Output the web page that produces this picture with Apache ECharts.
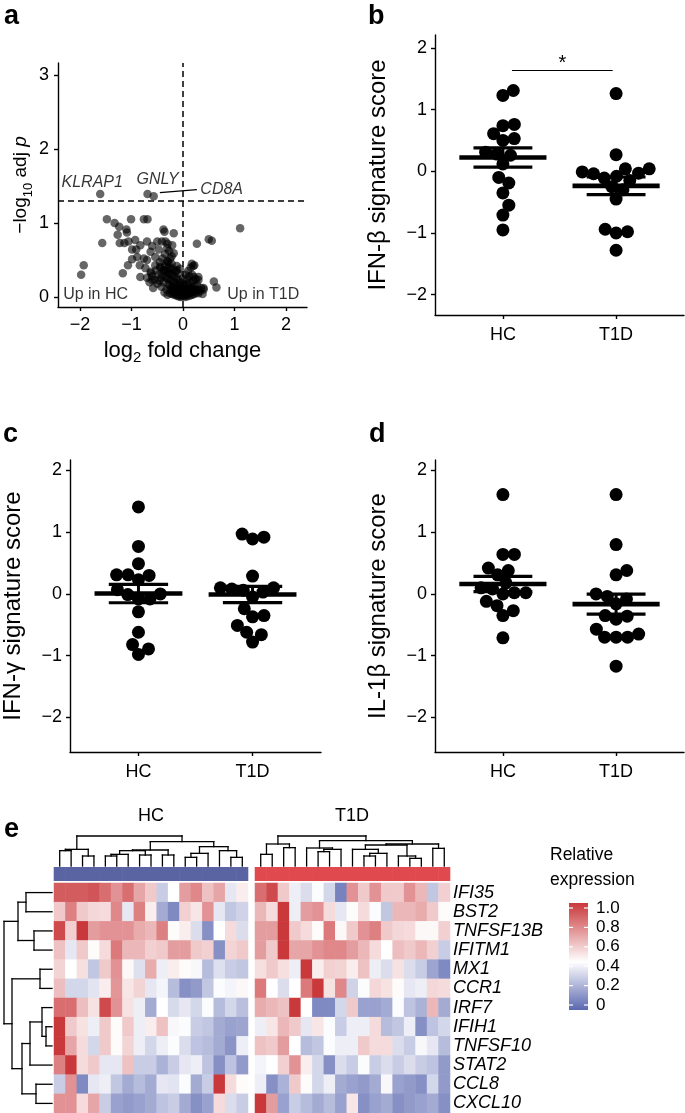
<!DOCTYPE html>
<html><head><meta charset="utf-8">
<script src="https://cdn.jsdelivr.net/npm/echarts@6/dist/echarts.min.js"></script>
<style>html,body{margin:0;padding:0;background:#fff}#c{width:685px;height:1113px}</style>
</head><body><div id="c"></div>
<script>
// ================= DATA =================
// Panel a: volcano plot [log2 fold change, -log10 adj p]
const volcanoPoints = [
 [-1.61,1.39],[-0.69,1.39],[-0.57,1.36],
 [-1.48,1.05],[-1.33,1.00],[-1.24,0.95],[-1.10,0.91],[-1.09,0.87],[-1.01,1.05],[-0.76,1.05],[-0.69,1.05],
 [-1.57,0.73],[-1.27,0.84],[-1.23,0.73],[-1.14,0.73],[-1.06,0.75],[-0.93,0.77],[-0.99,0.64],[-0.91,0.64],
 [-0.83,0.70],[-0.70,0.75],[-0.60,0.69],[-0.50,0.75],[-0.41,0.75],[-0.34,0.75],[-0.38,0.91],[-0.36,0.88],
 [-0.18,0.86],[-0.63,0.61],[-0.89,0.54],[-0.99,0.51],[-0.76,0.52],[-0.70,0.50],[-0.54,0.54],[-0.47,0.64],
 [-0.31,0.66],[-0.21,0.70],[-0.18,0.59],[-0.54,0.43],[-0.84,0.43],[-1.07,0.43],[-0.73,0.39],[-1.93,0.43],
 [-1.98,0.30],[-1.17,0.32],[-0.83,0.27],[-0.63,0.34],[-0.60,0.23],[-0.44,0.41],[-0.38,0.36],[-0.31,0.48],
 [-0.25,0.52],[-0.25,0.36],[-0.12,0.36],[-0.30,0.72],[-0.27,0.62],[-0.22,0.55],[-0.35,0.58],[-0.40,0.52],
 [-0.28,0.45],[-0.45,0.47],
 [0.27,0.72],[0.50,0.78],[0.56,0.76],[1.11,0.93],[0.17,0.45],[0.22,0.43],[0.21,0.27],[0.30,0.23],
 [0.40,0.12],[0.60,0.21],[0.65,0.13],
 [-0.02,0.01],[0.03,0.02],[-0.06,0.03],[0.07,0.03],[-0.10,0.04],[0.11,0.05],[-0.14,0.05],[0.15,0.06],
 [-0.18,0.07],[0.19,0.07],[-0.22,0.08],[0.24,0.09],[0.00,0.05],[-0.04,0.07],[0.05,0.08],[-0.08,0.09],
 [0.09,0.10],[-0.12,0.11],[0.13,0.12],[-0.16,0.12],[0.18,0.13],[-0.20,0.14],[0.22,0.15],[-0.25,0.15],
 [-0.28,0.17],[0.27,0.17],[-0.03,0.12],[0.02,0.14],[-0.07,0.15],[0.06,0.16],[-0.11,0.17],[0.10,0.18],
 [-0.15,0.19],[0.14,0.20],[-0.19,0.20],[-0.23,0.22],[0.20,0.22],[-0.27,0.24],[0.25,0.24],[-0.31,0.25],
 [-0.34,0.27],[0.30,0.27],[-0.05,0.20],[-0.09,0.23],[0.08,0.24],[-0.13,0.26],[0.12,0.28],[-0.17,0.28],
 [-0.21,0.30],[0.18,0.30],[-0.25,0.31],[-0.29,0.33],[-0.33,0.35],[-0.37,0.36],[-0.40,0.30],[-0.43,0.26],
 [-0.46,0.22],[-0.38,0.20],[-0.42,0.14],[-0.32,0.10],[-0.36,0.06],[-0.30,0.03],[0.30,0.05],[0.33,0.08],
 [0.35,0.12],[0.28,0.10],[-0.50,0.18],[-0.55,0.23],[-0.48,0.30],[-0.52,0.36],[-0.44,0.40],[-0.35,0.42],
 [-0.27,0.40],[-0.20,0.38],[-0.15,0.35],[-0.10,0.32],[0.05,0.30],[0.10,0.35],[0.15,0.40],[0.20,0.42],
 [-0.22,0.45],[-0.30,0.48],[-0.12,0.42],[-0.06,0.38],[0.00,0.25],[0.00,0.18],[-0.01,0.10],[0.04,0.00],
 [-0.05,0.00],[0.09,0.01],[-0.09,0.01],[0.14,0.02],[-0.13,0.02],[-0.17,0.03],[0.18,0.03],[0.22,0.04],
 [-0.21,0.04],[-0.25,0.05],[0.26,0.06],[-0.24,0.11],[0.20,0.10],[0.16,0.09],[-0.60,0.28],[-0.58,0.12],
 [-0.65,0.20],[-0.62,0.32],[-0.70,0.26],[0.40,0.10],[0.38,0.04]
];
const volcanoGenes = ['KLRAP1','GNLY','CD8A'];
const volcanoGeneFC = [-1.61,-0.69,-0.57];
const volcanoGeneP = [1.39,1.39,1.36];
const pThreshold = 1.3;
const volcanoXTicks = [-2,-1,0,1,2];
const volcanoYTicks = [0,1,2,3];

// Panels b-d: signature scores
const groups = ['HC','T1D'];
const ifnbHC  = [1.31,1.23,0.76,0.74,0.61,0.53,0.50,0.31,0.28,0.26,0.12,-0.10,-0.19,-0.35,-0.55,-0.71,-0.95];
const ifnbT1D = [1.26,0.27,0.04,0.04,-0.01,-0.03,-0.04,-0.08,-0.11,-0.15,-0.25,-0.30,-0.45,-0.94,-0.98,-1.00,-1.28];
const ifngHC  = [1.41,0.77,0.49,0.31,0.31,0.30,0.23,0.07,0.00,-0.01,-0.08,-0.08,-0.29,-0.62,-0.82,-0.89,-0.98];
const ifngT1D = [0.97,0.92,0.89,0.29,0.10,0.10,0.08,0.06,0.03,-0.05,-0.24,-0.35,-0.37,-0.51,-0.62,-0.66,-0.78];
const il1bHC  = [1.61,0.64,0.64,0.42,0.38,0.31,0.18,0.10,0.08,0.02,0.02,0.00,-0.12,-0.19,-0.27,-0.35,-0.71];
const il1bT1D = [1.61,0.80,0.38,0.31,0.00,-0.04,-0.08,-0.16,-0.35,-0.36,-0.41,-0.57,-0.65,-0.70,-0.70,-0.70,-1.17];
const scoreTicks = [-2,-1,0,1,2];

// Panel e: heatmap
const genes = ['IFI35','BST2','TNFSF13B','IFITM1','MX1','CCR1','IRF7','IFIH1','TNFSF10','STAT2','CCL8','CXCL10'];
const heatHC = [
 [0.90,0.90,0.90,0.92,0.85,0.75,0.85,0.70,0.60,0.30,0.45,0.72,0.78,0.62,0.70,0.38,0.50],
 [0.60,0.80,0.60,0.56,0.55,0.78,0.38,0.80,0.50,0.20,0.10,0.58,0.52,0.75,0.38,0.28,0.32],
 [0.95,0.58,1.00,0.72,0.75,0.75,0.75,0.68,0.65,0.80,0.46,0.50,0.35,0.12,0.45,0.55,0.35],
 [0.62,0.38,0.60,0.46,0.55,0.82,0.65,0.65,0.58,0.60,0.72,0.72,0.60,0.58,0.12,0.57,0.60],
 [0.57,0.45,0.54,0.28,0.60,0.75,0.47,0.36,0.68,0.40,0.50,0.46,0.43,0.25,0.36,0.30,0.28],
 [0.63,0.33,0.33,0.37,0.50,0.74,0.52,0.57,0.38,0.42,0.25,0.12,0.15,0.28,0.44,0.42,0.47],
 [0.85,0.85,0.63,0.53,0.95,0.75,0.53,0.40,0.20,0.45,0.34,0.38,0.33,0.44,0.25,0.33,0.26],
 [1.00,0.60,0.53,0.40,0.60,0.46,0.60,0.40,0.50,0.62,0.43,0.44,0.30,0.28,0.20,0.17,0.18],
 [1.00,0.70,0.55,0.33,0.60,0.46,0.57,0.40,0.33,0.40,0.44,0.35,0.27,0.25,0.20,0.13,0.40],
 [0.80,1.00,0.55,0.60,0.38,0.38,0.62,0.30,0.30,0.22,0.30,0.38,0.40,0.27,0.12,0.27,0.15],
 [0.30,0.75,0.10,0.38,0.40,0.28,0.20,0.25,0.20,0.38,0.37,0.44,0.20,0.30,1.00,0.55,0.46],
 [0.75,0.75,0.55,0.70,0.30,0.17,0.15,0.17,0.20,0.27,0.30,0.20,0.12,0.17,0.55,0.35,0.30]
];
const heatT1D = [
 [0.85,0.95,0.60,0.40,0.35,0.44,0.33,0.08,0.75,0.60,0.75,0.60,0.60,0.75,0.65,0.28,0.58],
 [0.65,0.55,1.00,0.40,0.72,0.75,0.55,0.38,0.46,0.55,0.44,0.28,0.65,0.65,0.68,0.60,0.46],
 [0.72,0.72,1.00,0.60,0.55,0.46,0.82,0.47,0.60,0.75,0.80,0.60,0.56,0.55,0.47,0.47,0.58],
 [0.72,0.60,1.00,0.70,0.70,0.75,0.78,0.78,0.72,0.65,0.55,0.45,0.63,0.60,0.65,0.58,0.30],
 [0.54,0.60,0.54,0.40,1.00,0.50,0.58,0.57,0.50,0.62,0.40,0.35,0.53,0.35,0.30,0.18,0.10],
 [0.82,0.45,0.35,0.45,0.82,1.00,0.53,0.78,0.32,0.44,0.56,0.53,0.46,0.38,0.40,0.56,0.55],
 [0.68,0.65,0.62,1.00,0.45,0.10,0.10,0.33,0.60,0.17,0.17,0.20,0.44,0.27,0.22,0.65,0.20],
 [0.40,0.52,0.65,0.60,0.38,0.52,0.44,0.30,0.40,0.40,0.55,0.25,0.28,0.40,0.12,0.27,0.33],
 [0.62,0.60,0.72,0.45,0.25,0.28,0.44,0.40,0.40,0.60,0.55,0.55,0.35,0.30,0.43,0.38,0.25],
 [0.42,0.45,0.58,0.75,0.50,0.33,0.12,0.35,0.30,0.44,0.30,0.35,0.30,0.35,0.30,0.27,0.15],
 [0.40,0.12,0.22,0.60,0.46,0.33,0.40,0.20,0.17,0.15,0.20,0.43,0.17,0.15,0.12,0.33,0.15],
 [1.00,0.72,0.17,0.30,0.25,0.20,0.25,0.17,0.52,0.12,0.17,0.20,0.12,0.15,0.17,0.20,0.12]
];
// dendrograms: hclust-style merges [childA, childB, height]; negative = leaf index (1-based)
const dendroHC = [[-1,-2,46],[-3,-4,30],[1,2,50],[-5,-6,30],[4,-7,35],[-8,-9,33],[5,6,46],[-10,-11,33],
 [7,8,48],[-12,-13,26],[10,-14,38],[-16,-17,26],[-15,12,46],[11,13,58],[9,14,73],[3,15,90]];
const dendroT1D = [[-1,-2,35],[-3,-4,55],[1,2,66],[-6,-7,43],[4,-8,50],[-5,5,54],[-10,-11,30],[7,-12,38],
 [-9,8,50],[-14,-15,23],[-13,10,30],[9,11,63],[-16,-17,53],[12,13,66],[6,14,76],[3,15,90]];
const dendroRows = [[-1,-2,26],[-3,-4,18],[1,2,34],[-5,-6,12],[-8,-9,6],[-7,5,10],[6,-10,22],[-11,-12,16],
 [7,8,30],[4,9,40],[3,10,48]];
const legendTicks = [0,0.2,0.4,0.6,0.8,1.0];
const legendTickLabels = ['0','0.2','0.4','0.6','0.8','1.0'];

// ================= HELPERS =================
const FONT = 'Liberation Sans, Arial, sans-serif';
const minus = v => String(v).replace('-', '\u2212');
function meanSem(a){const n=a.length;const m=a.reduce((s,v)=>s+v,0)/n;
  const sd=Math.sqrt(a.reduce((s,v)=>s+(v-m)*(v-m),0)/(n-1));return [m, sd/Math.sqrt(n)];}
function dendroSegs(merges, swap){
  const pos=[],hgt=[],segs=[];
  const px=c=>c<0?-c:pos[c-1], ph=c=>c<0?0:hgt[c-1];
  merges.forEach(([a,b,h])=>{
    const xa=px(a),xb=px(b);
    const s=[[xa,ph(a),xa,h],[xb,ph(b),xb,h],[xa,h,xb,h]];
    s.forEach(q=>segs.push(swap?[q[1],q[0],q[3],q[2]]:q));
    pos.push((xa+xb)/2);hgt.push(h);
  });
  return segs;
}
const lowC=[91,104,176], midC=[255,255,255], highC=[201,56,59], midAt=0.45;
function colAt(t){let a,b,f;if(t<=midAt){a=lowC;b=midC;f=t/midAt}else{a=midC;b=highC;f=(t-midAt)/(1-midAt)}
  return 'rgb('+a.map((v,i)=>Math.round(v+(b[i]-v)*f)).join(',')+')';}
const heatColors = Array.from({length:21},(_,i)=>colAt(i/20));

const axisStyle = {onZero:false, lineStyle:{color:'#000',width:1.4}};
const tickStyle = {length:4, lineStyle:{color:'#000',width:1.4}};
const lblStyle = {color:'#000', fontFamily:FONT, fontSize:18};

function segRender(params, api){
  const p1=api.coord([api.value(0),api.value(1)]), p2=api.coord([api.value(2),api.value(3)]);
  return {type:'line',shape:{x1:p1[0],y1:p1[1],x2:p2[0],y2:p2[1]},style:{stroke:'#000',lineWidth:1.3,lineCap:'square'}};
}
function meanRender(params, api){
  const x=api.value(0), m=api.value(1), s=api.value(2);
  const L=(a,b,w)=>({type:'line',shape:{x1:a[0],y1:a[1],x2:b[0],y2:b[1]},style:{stroke:'#000',lineWidth:w}});
  return {type:'group',children:[
    L(api.coord([x,m+s]),api.coord([x,m-s]),3),
    L(api.coord([x-0.26,m+s]),api.coord([x+0.26,m+s]),3.2),
    L(api.coord([x-0.26,m-s]),api.coord([x+0.26,m-s]),3.2),
    L(api.coord([x-0.385,m]),api.coord([x+0.385,m]),4.6)
  ]};
}
function annotRender(color){
  return function(params, api){
    const p=api.coord([api.value(0),0]); const s=api.size([1,1]);
    return {type:'rect',shape:{x:p[0]-s[0]/2-0.3,y:p[1]-s[1]/2,width:s[0]+0.6,height:s[1]},style:{fill:color}};
  };
}

// ================= LAYOUT =================
const grids = [
  {left:58, top:63, width:249, height:244},   // 0 volcano
  {left:435, top:35, width:249, height:280},  // 1 b
  {left:70, top:460, width:251, height:292},  // 2 c
  {left:435, top:460, width:249, height:292}, // 3 d
  {left:54, top:836, width:194, height:30},   // 4 HC dendro
  {left:255, top:836, width:195, height:30},  // 5 T1D dendro
  {left:54, top:867, width:194, height:14},   // 6 HC annot
  {left:255, top:867, width:195, height:14},  // 7 T1D annot
  {left:54, top:883, width:194, height:230},  // 8 HC heat
  {left:255, top:883, width:195, height:230}, // 9 T1D heat
  {left:2, top:883, width:50, height:230}     // 10 row dendro
];
const hidden = {show:false};
function scoreX(gi){return {gridIndex:gi,type:'value',min:0.4,max:2.6,axisLine:axisStyle,axisTick:Object.assign({customValues:[1,2]},tickStyle),
  axisLabel:Object.assign({customValues:[1,2],margin:11,formatter:v=>groups[Math.round(v)-1]},lblStyle),splitLine:hidden};}
function scoreY(gi,min,max,name){return {gridIndex:gi,type:'value',min:min,max:max,axisLine:axisStyle,
  axisTick:Object.assign({customValues:scoreTicks},tickStyle),axisLabel:Object.assign({customValues:scoreTicks,margin:8,formatter:minus},lblStyle),
  splitLine:hidden,name:name,nameLocation:'middle',nameGap:45,nameTextStyle:{fontFamily:FONT,fontSize:24,color:'#000'}};}

const xAxis = [
  {gridIndex:0,type:'value',min:-2.43,max:2.41,axisLine:axisStyle,axisTick:Object.assign({customValues:volcanoXTicks},tickStyle),
   axisLabel:Object.assign({customValues:volcanoXTicks,margin:9,formatter:minus},lblStyle),splitLine:hidden,
   name:'{n|log}{s|2}{n| fold change}',nameLocation:'middle',nameGap:30,
   nameTextStyle:{rich:{n:{fontFamily:FONT,fontSize:22,color:'#000',lineHeight:28,verticalAlign:'middle'},s:{fontFamily:FONT,fontSize:15,color:'#000',lineHeight:15,verticalAlign:'bottom'}}}},
  scoreX(1), scoreX(2), scoreX(3),
  {gridIndex:4,type:'value',min:0.5,max:17.5,show:false},
  {gridIndex:5,type:'value',min:0.5,max:17.5,show:false},
  {gridIndex:6,type:'category',data:heatHC[0].map((_,i)=>'HC'+(i+1)),show:false},
  {gridIndex:7,type:'category',data:heatT1D[0].map((_,i)=>'T1D'+(i+1)),show:false},
  {gridIndex:8,type:'category',data:heatHC[0].map((_,i)=>'HC'+(i+1)),show:false},
  {gridIndex:9,type:'category',data:heatT1D[0].map((_,i)=>'T1D'+(i+1)),show:false},
  {gridIndex:10,type:'value',min:0,max:50,inverse:true,show:false}
];
const yAxis = [
  {gridIndex:0,type:'value',min:-0.135,max:3.16,axisLine:axisStyle,axisTick:Object.assign({customValues:volcanoYTicks},tickStyle),
   axisLabel:Object.assign({customValues:volcanoYTicks,margin:9},lblStyle),splitLine:hidden,
   name:'{n|\u2212log}{s|10}{n| adj }{i|p}',nameLocation:'middle',nameGap:20,
   nameTextStyle:{rich:{n:{fontFamily:FONT,fontSize:19,color:'#000',lineHeight:28,verticalAlign:'middle'},
     s:{fontFamily:FONT,fontSize:13,color:'#000',lineHeight:13,verticalAlign:'bottom'},
     i:{fontFamily:FONT,fontSize:19,fontStyle:'italic',color:'#000',lineHeight:28,verticalAlign:'middle'}}}},
  scoreY(1,-2.33,2.21,'IFN-\u03b2 signature score'),
  scoreY(2,-2.56,2.17,'IFN-\u03b3 signature score'),
  scoreY(3,-2.56,2.17,'IL-1\u03b2 signature score'),
  {gridIndex:4,type:'value',min:0,max:90,show:false},
  {gridIndex:5,type:'value',min:0,max:90,show:false},
  {gridIndex:6,type:'category',data:['group'],show:false},
  {gridIndex:7,type:'category',data:['group'],show:false},
  {gridIndex:8,type:'category',data:genes,inverse:true,show:false},
  {gridIndex:9,type:'category',data:genes,inverse:true,position:'right',axisLine:hidden,axisTick:hidden,
   axisLabel:{interval:0,color:'#000',fontFamily:FONT,fontSize:18,fontStyle:'italic',margin:3},splitLine:hidden},
  {gridIndex:10,type:'value',min:0.5,max:12.5,inverse:true,show:false}
];

// ================= SERIES =================
const series = [];
series.push({type:'scatter',id:'volcano',xAxisIndex:0,yAxisIndex:0,data:volcanoPoints,symbolSize:8.5,
  itemStyle:{color:'rgba(0,0,0,0.6)',opacity:1},silent:true,
  markLine:{silent:true,symbol:'none',lineStyle:{color:'#000',width:1.5,type:[6,4]},label:{show:false},
    data:[{yAxis:pThreshold},{xAxis:0}]}});
series.push({type:'scatter',xAxisIndex:0,yAxisIndex:0,symbolSize:0,silent:true,
  data:volcanoGenes.map((g,i)=>({name:g,value:[volcanoGeneFC[i],volcanoGeneP[i]],
    label:{offset:[[-8,-12],[10,-15],[68,-7]][i]}})),
  label:{show:true,position:'inside',formatter:'{b}',color:'#000',fontFamily:FONT,fontSize:16,fontStyle:'italic'},
  markLine:{silent:true,symbol:['none','arrow'],symbolSize:[0,8],lineStyle:{color:'#000',width:1.4,type:'solid'},label:{show:false},
    data:[[{coord:[0.27,1.45]},{coord:[-0.45,1.41]}]]}});
series.push({type:'scatter',xAxisIndex:0,yAxisIndex:0,symbolSize:0,silent:true,
  data:[{name:'Up in HC',value:[-2.33,0.03],label:{position:'right'}},{name:'Up in T1D',value:[2.26,0.03],label:{position:'left'}}],
  label:{show:true,distance:0,formatter:'{b}',color:'#000',fontFamily:FONT,fontSize:16}});

const scorePanels = [[1,ifnbHC,ifnbT1D],[2,ifngHC,ifngT1D],[3,il1bHC,il1bT1D]];
scorePanels.forEach(([gi,hc,t1d])=>{
  series.push({type:'scatter',id:'sc'+gi+'a',xAxisIndex:gi,yAxisIndex:gi,data:hc.map(v=>[1,v]),symbolSize:13,itemStyle:{color:'#000',opacity:1},silent:true});
  series.push({type:'scatter',id:'sc'+gi+'b',xAxisIndex:gi,yAxisIndex:gi,data:t1d.map(v=>[2,v]),symbolSize:13,itemStyle:{color:'#000',opacity:1},silent:true});
  series.push({type:'custom',xAxisIndex:gi,yAxisIndex:gi,renderItem:meanRender,silent:true,z:5,
    data:[[1].concat(meanSem(hc)),[2].concat(meanSem(t1d))],encode:{x:0,y:1}});
});
// significance bar in b
series.push({type:'line',xAxisIndex:1,yAxisIndex:1,data:[],silent:true,
  markLine:{silent:true,symbol:'none',lineStyle:{color:'#000',width:1.2,type:'solid'},
    label:{show:true,position:'insideMiddleTop',formatter:'*',fontSize:20,fontFamily:FONT,color:'#000',distance:-3},
    data:[[{coord:[1.08,1.64]},{coord:[1.97,1.64]}]]}});

// dendrograms
series.push({type:'custom',xAxisIndex:4,yAxisIndex:4,renderItem:segRender,data:dendroSegs(dendroHC,false),encode:{x:[0,2],y:[1,3]},silent:true});
series.push({type:'custom',xAxisIndex:5,yAxisIndex:5,renderItem:segRender,data:dendroSegs(dendroT1D,false),encode:{x:[0,2],y:[1,3]},silent:true});
series.push({type:'custom',xAxisIndex:10,yAxisIndex:10,renderItem:segRender,data:dendroSegs(dendroRows,true),encode:{x:[0,2],y:[1,3]},silent:true});
// annotation bars
series.push({type:'custom',xAxisIndex:6,yAxisIndex:6,renderItem:annotRender('#5A64A3'),data:heatHC[0].map((_,i)=>[i,0]),silent:true});
series.push({type:'custom',xAxisIndex:7,yAxisIndex:7,renderItem:annotRender('#E04A4E'),data:heatT1D[0].map((_,i)=>[i,0]),silent:true});
// heatmaps
const heatData = m => { const d=[]; m.forEach((row,r)=>row.forEach((v,c)=>d.push([c,r,v]))); return d; };
const heatIdx = series.length;
series.push({type:'heatmap',xAxisIndex:8,yAxisIndex:8,data:heatData(heatHC),silent:true,itemStyle:{borderWidth:0}});
series.push({type:'heatmap',xAxisIndex:9,yAxisIndex:9,data:heatData(heatT1D),silent:true,itemStyle:{borderWidth:0}});

// ================= GRAPHIC (text, legend) =================
const letter = (t,x,y)=>({type:'text',x:x,y:y,style:{text:t,font:'bold 27px '+FONT,fill:'#000',verticalAlign:'middle'}});
const legTop=908, legBottom=1005;
const graphic = [
  letter('a',4,17), letter('b',368,17), letter('c',3,435), letter('d',369,435), letter('e',4,830),
  {type:'text',x:151,y:816,style:{text:groups[0],font:'18px '+FONT,fill:'#000',align:'center',verticalAlign:'middle'}},
  {type:'text',x:352,y:816,style:{text:groups[1],font:'18px '+FONT,fill:'#000',align:'center',verticalAlign:'middle'}},
  {type:'text',x:550,y:855,style:{text:'Relative',font:'17.5px '+FONT,fill:'#000',verticalAlign:'middle'}},
  {type:'text',x:550,y:880,style:{text:'expression',font:'17.5px '+FONT,fill:'#000',verticalAlign:'middle'}},
  {type:'rect',shape:{x:569,y:legTop-5,width:19,height:legBottom-legTop+10},
   style:{fill:new echarts.graphic.LinearGradient(0,0,0,1,heatColors.slice().reverse().map((c,i)=>({offset:i/20,color:c})))}}
];
legendTicks.forEach((v,i)=>{
  const y = legBottom-(legBottom-legTop)*v;
  graphic.push({type:'line',shape:{x1:569,y1:y,x2:573,y2:y},style:{stroke:'#fff',lineWidth:1.2}});
  graphic.push({type:'line',shape:{x1:584,y1:y,x2:588,y2:y},style:{stroke:'#fff',lineWidth:1.2}});
  graphic.push({type:'text',x:596,y:y,style:{text:legendTickLabels[i],font:'17px '+FONT,fill:'#000',verticalAlign:'middle'}});
});

const chart = echarts.init(document.getElementById('c'));
chart.setOption({
  animation:false, backgroundColor:'#fff', grid:grids, xAxis:xAxis, yAxis:yAxis, series:series, graphic:graphic,
  visualMap:{type:'continuous',show:false,min:0,max:1,seriesIndex:[heatIdx,heatIdx+1],inRange:{color:heatColors}}
});

// beeswarm layout of the dots (pixel-space packing)
function swarm(vals, gi, cat, diam){
  const cx = chart.convertToPixel({gridIndex:gi},[cat,0])[0];
  const pts = vals.map((v,i)=>({i:i,py:chart.convertToPixel({gridIndex:gi},[cat,v])[1]}));
  pts.sort((a,b)=>b.py-a.py);
  const placed=[], out=new Array(vals.length);
  pts.forEach(p=>{
    const c=[0];
    placed.forEach(q=>{const dy=p.py-q.py; if(Math.abs(dy)<diam){const dx=Math.sqrt(diam*diam-dy*dy); c.push(q.x+dx,q.x-dx);}});
    c.sort((a,b)=>Math.abs(a)-Math.abs(b));
    let best=0;
    for(const x of c){ if(placed.every(q=>(q.x-x)*(q.x-x)+(q.py-p.py)*(q.py-p.py)>=diam*diam-0.01)){best=x;break;} }
    placed.push({x:best,py:p.py});
    out[p.i]=[chart.convertFromPixel({gridIndex:gi},[cx+best,p.py])[0], vals[p.i]];
  });
  return out;
}
const upd=[];
scorePanels.forEach(([gi,hc,t1d])=>{
  upd.push({id:'sc'+gi+'a',data:swarm(hc,gi,1,11.5)});
  upd.push({id:'sc'+gi+'b',data:swarm(t1d,gi,2,11.5)});
});
chart.setOption({series:upd});
</script></body></html>
